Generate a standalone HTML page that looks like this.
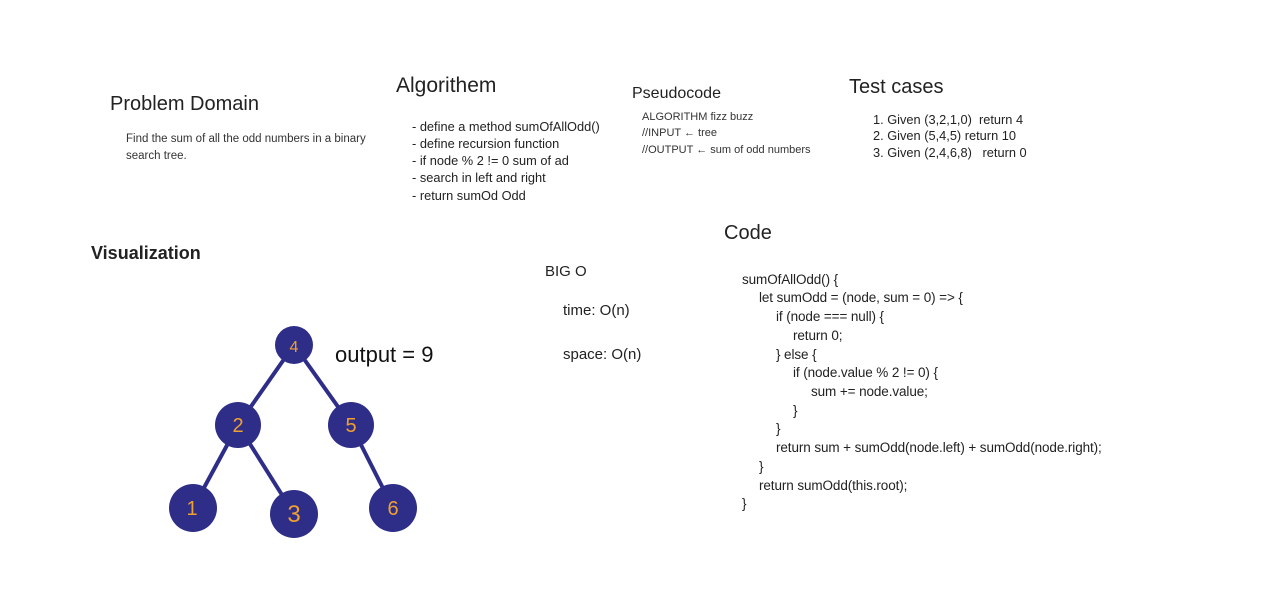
<!DOCTYPE html>
<html><head><meta charset="utf-8"><style>
body{margin:0;width:1280px;height:602px;background:#fff;position:relative;overflow:hidden;font-family:"Liberation Sans",sans-serif;color:#222}
.t{position:absolute;white-space:pre;line-height:1}
.h{font-size:20px}
.s{font-size:11px;color:#333}
.m{font-size:12.8px}
.c{font-size:13.5px;letter-spacing:-0.1px}
</style></head><body>
<div class="t h" style="left:110px;top:94px">Problem Domain</div>
<div class="t s" style="left:126px;top:134px;font-size:11.5px">Find the sum of all the odd numbers in a binary</div>
<div class="t s" style="left:126px;top:151px;font-size:11.5px">search tree.</div>

<div class="t h" style="left:396px;top:75px;font-size:21px">Algorithem</div>
<div class="t m" style="left:412px;top:121px">- define a method sumOfAllOdd()</div>
<div class="t m" style="left:412px;top:138px">- define recursion function</div>
<div class="t m" style="left:412px;top:155px">- if node % 2 != 0 sum of ad</div>
<div class="t m" style="left:412px;top:172px">- search in left and right</div>
<div class="t m" style="left:412px;top:190px">- return sumOd Odd</div>

<div class="t" style="left:632px;top:86px;font-size:16px">Pseudocode</div>
<div class="t s" style="left:642px;top:112px">ALGORITHM fizz buzz</div>
<div class="t s" style="left:642px;top:128px">//INPUT ← tree</div>
<div class="t s" style="left:642px;top:145px">//OUTPUT ← sum of odd numbers</div>

<div class="t h" style="left:849px;top:77px">Test cases</div>
<div class="t m" style="left:873px;top:114px">1. Given (3,2,1,0)  return 4</div>
<div class="t m" style="left:873px;top:130px">2. Given (5,4,5) return 10</div>
<div class="t m" style="left:873px;top:147px">3. Given (2,4,6,8)   return 0</div>

<div class="t" style="left:91px;top:244px;font-size:18px;font-weight:bold;color:#222">Visualization</div>

<div class="t" style="left:545px;top:264px;font-size:15px">BIG O</div>
<div class="t" style="left:563px;top:303px;font-size:15px">time: O(n)</div>
<div class="t" style="left:563px;top:347px;font-size:15px">space: O(n)</div>

<div class="t h" style="left:724px;top:223px">Code</div>
<div class="t c" style="left:742px;top:273px">sumOfAllOdd() {</div>
<div class="t c" style="left:759px;top:291px">let sumOdd = (node, sum = 0) =&gt; {</div>
<div class="t c" style="left:776px;top:310px">if (node === null) {</div>
<div class="t c" style="left:793px;top:329px">return 0;</div>
<div class="t c" style="left:776px;top:348px">} else {</div>
<div class="t c" style="left:793px;top:366px">if (node.value % 2 != 0) {</div>
<div class="t c" style="left:811px;top:385px">sum += node.value;</div>
<div class="t c" style="left:793px;top:404px">}</div>
<div class="t c" style="left:776px;top:422px">}</div>
<div class="t c" style="left:776px;top:441px">return sum + sumOdd(node.left) + sumOdd(node.right);</div>
<div class="t c" style="left:759px;top:460px">}</div>
<div class="t c" style="left:759px;top:479px">return sumOdd(this.root);</div>
<div class="t c" style="left:742px;top:497px">}</div>

<svg width="1280" height="602" style="position:absolute;left:0;top:0">
<g stroke="#2e2e88" stroke-width="4">
<line x1="294" y1="345" x2="238" y2="425"/><line x1="294" y1="345" x2="351" y2="425"/>
<line x1="238" y1="425" x2="193" y2="508"/><line x1="238" y1="425" x2="294" y2="514"/>
<line x1="351" y1="425" x2="393" y2="508"/>
</g>
<g fill="#2e2e88">
<circle cx="294" cy="345" r="19"/><circle cx="238" cy="425" r="23"/><circle cx="351" cy="425" r="23"/>
<circle cx="193" cy="508" r="24"/><circle cx="294" cy="514" r="24"/><circle cx="393" cy="508" r="24"/>
</g>
<g fill="#f0a030" font-family="Liberation Sans,sans-serif" font-size="20" text-anchor="middle">
<text x="294" y="352" font-size="16">4</text><text x="238" y="432">2</text><text x="351" y="432">5</text>
<text x="192" y="515">1</text><text x="294" y="522" font-size="24">3</text><text x="393" y="515">6</text>
</g>
<text x="335" y="362" font-family="Liberation Sans,sans-serif" font-size="22" fill="#111">output = 9</text>
</svg>
</body></html>
